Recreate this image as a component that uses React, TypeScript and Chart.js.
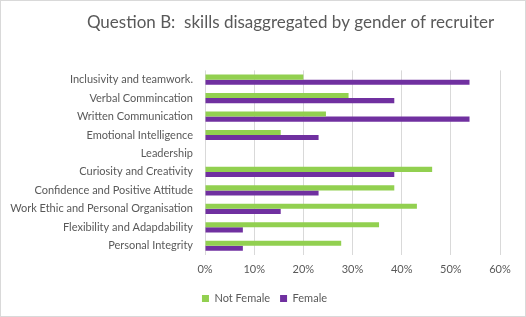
import React, { useEffect, useRef } from "react";
import { Chart, registerables } from "chart.js";

Chart.register(...registerables);

const TITLE = "Question B:  skills disaggregated by gender of recruiter";
const categories = [
  "Inclusivity and teamwork.",
  "Verbal Commincation",
  "Written Communication",
  "Emotional Intelligence",
  "Leadership",
  "Curiosity and Creativity",
  "Confidence and Positive Attitude",
  "Work Ethic and Personal Organisation",
  "Flexibility and Adapdability",
  "Personal Integrity",
];
const notFemale = [20.0, 29.2, 24.6, 15.4, 0, 46.2, 38.5, 43.1, 35.4, 27.7];
const female = [53.8, 38.5, 53.8, 23.1, 0, 38.5, 23.1, 15.4, 7.7, 7.7];
const xTicks = [0, 10, 20, 30, 40, 50, 60];

const FONT = "Lato, 'Open Sans', sans-serif";
const TEXT = "#595959";

const shiftPlugin = {
  id: "shiftBoxes",
  afterLayout(chart: any) {
    const t = chart.titleBlock;
    if (t) {
      t.left += 36;
      t.right += 36;
    }
    const l = chart.legend;
    if (l) {
      l.left += 10;
      l.right += 10;
    }
  },
};

export default function App() {
  const ref = useRef<HTMLCanvasElement | null>(null);
  useEffect(() => {
    if (!ref.current) return;
    const chart = new Chart(ref.current, {
      type: "bar",
      data: {
        labels: categories,
        datasets: [
          {
            label: "Not Female",
            data: notFemale,
            backgroundColor: "#92d050",
            borderWidth: 0,
            categoryPercentage: 0.55,
            barPercentage: 1,
          },
          {
            label: "Female",
            data: female,
            backgroundColor: "#7030a0",
            borderWidth: 0,
            categoryPercentage: 0.55,
            barPercentage: 1,
          },
        ],
      },
      options: {
        indexAxis: "y",
        responsive: false,
        animation: false,
        layout: { padding: { left: 9, right: 26, top: 4, bottom: 3 } },
        scales: {
          x: {
            min: xTicks[0],
            max: xTicks[xTicks.length - 1],
            afterBuildTicks(scale: any) {
              scale.ticks = xTicks.map((v) => ({ value: v }));
            },
            ticks: {
              callback: (v: any) => v + "%",
              color: TEXT,
              font: { family: FONT, size: 11 },
              padding: 8,
              maxRotation: 0,
            },
            grid: { color: "#d9d9d9", drawTicks: false, lineWidth: 1 },
            border: { display: false },
            afterFit(scale: any) {
              scale.height = 28;
            },
          },
          y: {
            ticks: {
              color: TEXT,
              font: { family: FONT, size: 11 },
              padding: 12,
              autoSkip: false,
            },
            grid: { display: false, drawTicks: false },
            border: { display: false },
            afterFit(scale: any) {
              scale.width = 196;
            },
          },
        },
        plugins: {
          title: {
            display: true,
            text: TITLE,
            color: TEXT,
            font: { family: FONT, size: 17, weight: "normal" },
            padding: { top: 8, bottom: 38 },
          },
          legend: {
            position: "bottom",
            labels: {
              boxWidth: 7,
              boxHeight: 7,
              color: TEXT,
              font: { family: FONT, size: 11 },
              padding: 10,
            },
          },
          tooltip: { enabled: false },
        },
      },
      plugins: [shiftPlugin],
    } as any);
    return () => chart.destroy();
  }, []);
  return (
    <div style={{ position: "fixed", left: 0, top: 0, width: 526, height: 317, background: "#fff" }}>
      <canvas ref={ref} width={526} height={317} style={{ display: "block" }} />
      <div
        style={{
          position: "absolute",
          left: 0,
          top: 0,
          width: 526,
          height: 317,
          border: "1px solid #d9d9d9",
          boxSizing: "border-box",
          pointerEvents: "none",
        }}
      />
    </div>
  );
}
